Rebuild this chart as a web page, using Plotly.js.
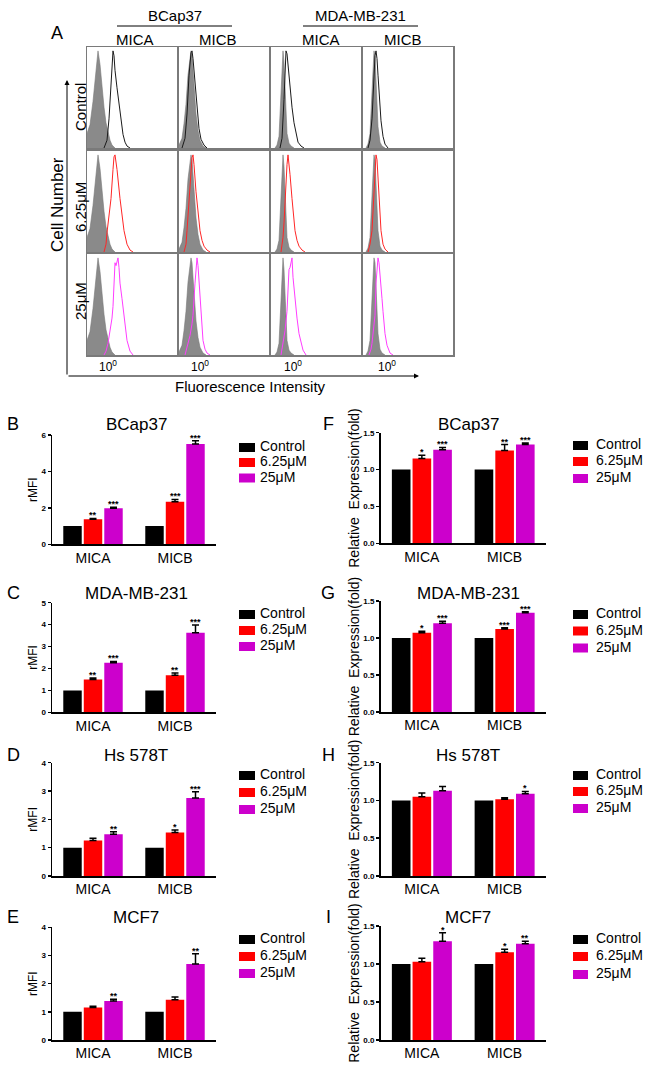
<!DOCTYPE html>
<html><head><meta charset="utf-8">
<script src="https://cdn.plot.ly/plotly-3.0.1.min.js"></script>
<style>html,body{margin:0;padding:0;background:#fff}#chart{width:650px;height:1079px}</style>
</head><body><div id="chart"></div>
<script>
// ================= DATA =================
// Panel A: flow cytometry histograms (x = channel, 30 channels per decade; y = relative cell count)
const cellLines = ['BCap37', 'MDA-MB-231'];
const ligands = ['MICA', 'MICB'];
const treatments = ['Control', '6.25μM', '25μM'];
const axisTickText = '10<sup>0</sup>';
const zeroChannel = [21, 21, 22, 24];   // channel of intensity 10^0 in each column

// isotype (grey filled) per column
const iso1_ch = [0, 3, 6, 9, 11, 13, 15, 17, 19, 21, 23, 25, 28];
const iso1_n  = [15, 24, 48, 82, 100, 86, 62, 42, 26, 15, 8, 3, 0];
const iso2_ch = [0, 3, 5, 7, 9, 11, 12, 13, 15, 17, 19, 21, 24, 27];
const iso2_n  = [3, 10, 25, 45, 75, 95, 100, 95, 60, 35, 18, 8, 2, 0];
const iso3_ch = [4, 6, 8, 9, 10, 11, 12, 13, 14, 15, 16, 18, 20, 23];
const iso3_n  = [0, 3, 12, 35, 70, 92, 100, 88, 60, 32, 15, 5, 2, 0];
const iso4_ch = [3, 5, 7, 8, 9, 10, 11, 12, 13, 14, 15, 17, 19, 22];
const iso4_n  = [0, 4, 15, 35, 65, 90, 100, 95, 75, 45, 22, 6, 2, 0];

// Control (black)
const ctl1_ch = [17, 20, 22, 24, 25, 26, 27, 28, 30, 32, 34, 36, 38, 40, 43];
const ctl1_n  = [0, 8, 30, 70, 90, 100, 95, 80, 62, 45, 30, 14, 6, 2, 0];
const ctl2_ch = [3, 6, 8, 10, 12, 13, 14, 16, 18, 20, 22, 25, 28];
const ctl2_n  = [0, 10, 35, 75, 98, 100, 92, 65, 40, 20, 9, 3, 0];
const ctl3_ch = [9, 11, 13, 14, 15, 16, 17, 19, 21, 23, 25, 27, 30, 33];
const ctl3_n  = [0, 10, 50, 85, 100, 97, 85, 62, 42, 26, 14, 6, 2, 0];
const ctl4_ch = [5, 7, 9, 10, 11, 12, 13, 14, 15, 16, 18, 20, 22, 25];
const ctl4_n  = [0, 8, 30, 55, 80, 95, 100, 92, 75, 55, 28, 12, 4, 0];

// 6.25 μM (red)
const low1_ch = [17, 19, 20, 22, 24, 26, 27, 28, 30, 33, 35, 37, 40, 43, 46];
const low1_n  = [0, 8, 20, 38, 55, 85, 98, 100, 85, 55, 38, 22, 8, 2, 0];
const low2_ch = [5, 7, 8, 10, 12, 13, 14, 15, 17, 19, 21, 23, 25, 28, 31];
const low2_n  = [0, 8, 22, 55, 85, 97, 100, 90, 62, 38, 22, 12, 6, 2, 0];
const low3_ch = [10, 12, 13, 14, 16, 17, 18, 19, 21, 23, 24, 26, 28, 31, 34];
const low3_n  = [0, 15, 30, 55, 90, 100, 92, 80, 55, 32, 22, 12, 6, 2, 0];
const low4_ch = [5, 7, 9, 10, 11, 12, 13, 14, 15, 16, 17, 18, 20, 22, 25];
const low4_n  = [0, 8, 22, 45, 70, 92, 100, 95, 75, 55, 35, 22, 8, 3, 0];

// 25 μM (magenta)
const high1_ch = [17, 19, 21, 23, 25, 26, 27, 28, 29, 30, 31, 32, 33, 35, 37, 40, 43, 46];
const high1_n  = [0, 4, 12, 25, 38, 50, 74, 95, 92, 96, 100, 90, 74, 58, 41, 15, 4, 0];
const high2_ch = [6, 9, 11, 13, 14, 16, 17, 18, 19, 20, 22, 24, 26, 28, 31];
const high2_n  = [0, 12, 20, 32, 41, 74, 92, 100, 92, 74, 41, 15, 6, 2, 0];
const high3_ch = [10, 12, 14, 16, 17, 18, 19, 20, 21, 22, 24, 26, 28, 30, 32, 35];
const high3_n  = [0, 12, 25, 45, 70, 88, 90, 95, 100, 80, 55, 38, 22, 12, 5, 0];
const high4_ch = [6, 8, 9, 11, 12, 13, 14, 15, 16, 17, 18, 19, 20, 22, 24, 27, 30];
const high4_n  = [0, 6, 12, 28, 41, 74, 90, 100, 95, 85, 74, 58, 45, 22, 10, 2, 0];

// Panels B-I: bar charts
const barCategories = ['MICA', 'MICB'];
const seriesNames = ['Control', '6.25μM', '25μM'];

const B_ctrl = [1, 1], B_low = [1.37, 2.34], B_high = [1.98, 5.51];
const B_lowErr = [0.05, 0.12], B_highErr = [0.06, 0.18];
const B_lowSig = ['**', '***'], B_highSig = ['***', '***'];

const C_ctrl = [1, 1], C_low = [1.50, 1.69], C_high = [2.26, 3.63];
const C_lowErr = [0.06, 0.10], C_highErr = [0.06, 0.35];
const C_lowSig = ['**', '**'], C_highSig = ['***', '***'];

const D_ctrl = [1, 1], D_low = [1.25, 1.54], D_high = [1.47, 2.75];
const D_lowErr = [0.08, 0.08], D_highErr = [0.09, 0.22];
const D_lowSig = ['', '*'], D_highSig = ['**', '***'];

const E_ctrl = [1, 1], E_low = [1.15, 1.43], E_high = [1.38, 2.70];
const E_lowErr = [0.05, 0.10], E_highErr = [0.07, 0.36];
const E_lowSig = ['', ''], E_highSig = ['**', '**'];

const F_ctrl = [1, 1], F_low = [1.15, 1.26], F_high = [1.27, 1.34];
const F_lowErr = [0.045, 0.08], F_highErr = [0.03, 0.02];
const F_lowSig = ['*', '**'], F_highSig = ['***', '***'];

const G_ctrl = [1, 1], G_low = [1.07, 1.12], G_high = [1.20, 1.34];
const G_lowErr = [0.02, 0.02], G_highErr = [0.025, 0.015];
const G_lowSig = ['*', '***'], G_highSig = ['***', '***'];

const H_ctrl = [1, 1], H_low = [1.05, 1.015], H_high = [1.13, 1.09];
const H_lowErr = [0.05, 0.02], H_highErr = [0.055, 0.03];
const H_lowSig = ['', ''], H_highSig = ['', '*'];

const I_ctrl = [1, 1], I_low = [1.03, 1.155], I_high = [1.30, 1.265];
const I_lowErr = [0.045, 0.04], I_highErr = [0.11, 0.035];
const I_lowSig = ['', '*'], I_highSig = ['*', '**'];

// ================= BUILD =================
const W = 650, H = 1079;
const px = v => v / W;
const py = v => 1 - v / H;
const FONT = 'Arial, "Liberation Sans", sans-serif';

const traces = [];
const layout = {
  width: W, height: H,
  margin: {l: 0, r: 0, t: 0, b: 0},
  paper_bgcolor: '#fff', plot_bgcolor: 'rgba(0,0,0,0)',
  font: {family: FONT, color: '#000'},
  barmode: 'group', bargap: 0.25, bargroupgap: 0.1,
  showlegend: false,
  annotations: [], shapes: []
};
const ann = (o) => layout.annotations.push(Object.assign({xref: 'paper', yref: 'paper', showarrow: false,
  xanchor: 'center', yanchor: 'middle', font: {family: FONT, size: 15, color: '#000'}}, o));

// ---------- Panel A ----------
const isoCurves = [[iso1_ch, iso1_n], [iso2_ch, iso2_n], [iso3_ch, iso3_n], [iso4_ch, iso4_n]];
const stainCurves = [
  [[ctl1_ch, ctl1_n], [ctl2_ch, ctl2_n], [ctl3_ch, ctl3_n], [ctl4_ch, ctl4_n]],
  [[low1_ch, low1_n], [low2_ch, low2_n], [low3_ch, low3_n], [low4_ch, low4_n]],
  [[high1_ch, high1_n], [high2_ch, high2_n], [high3_ch, high3_n], [high4_ch, high4_n]]
];
const lineColors = ['#1a1a1a', '#ff2626', '#ff3cff'];
const colX = [[87, 177], [179, 269], [271, 361], [363, 453]];
const rowY = [[47, 148], [151, 252], [254, 355]];

for (let r = 0; r < 3; r++) {
  for (let c = 0; c < 4; c++) {
    const idx = r * 4 + c + 1;
    const xs = idx === 1 ? 'x' : 'x' + idx, ys = idx === 1 ? 'y' : 'y' + idx;
    const xk = idx === 1 ? 'xaxis' : 'xaxis' + idx, yk = idx === 1 ? 'yaxis' : 'yaxis' + idx;
    traces.push({type: 'scatter', mode: 'lines', x: isoCurves[c][0], y: isoCurves[c][1], xaxis: xs, yaxis: ys,
      fill: 'tozeroy', fillcolor: '#8a8a8a', line: {color: '#777', width: 0.6}, name: 'Isotype', hoverinfo: 'skip'});
    traces.push({type: 'scatter', mode: 'lines', x: stainCurves[r][c][0], y: stainCurves[r][c][1], xaxis: xs, yaxis: ys,
      line: {color: lineColors[r], width: 1}, name: treatments[r], hoverinfo: 'skip'});
    layout[xk] = {domain: [px(colX[c][0]), px(colX[c][1])], anchor: ys, range: [0, 90], fixedrange: true,
      showline: true, mirror: true, linecolor: '#7a7a7a', linewidth: 1.5, showgrid: false, zeroline: false,
      ticks: '', tickvals: [zeroChannel[c]], ticktext: [axisTickText], showticklabels: r === 2,
      tickfont: {size: 12, family: FONT, color: '#000'}};
    layout[yk] = {domain: [py(rowY[r][1]), py(rowY[r][0])], anchor: xs, range: [0, 104], fixedrange: true,
      showline: true, mirror: true, linecolor: '#7a7a7a', linewidth: 1.5, showgrid: false, zeroline: false,
      ticks: '', showticklabels: false};
  }
}

// headers
ann({x: px(57), y: py(33), text: 'A', font: {family: FONT, size: 18, color: '#000'}});
ann({x: px(175), y: py(15), text: cellLines[0]});
ann({x: px(360), y: py(15), text: cellLines[1]});
layout.shapes.push({type: 'line', xref: 'paper', yref: 'paper', x0: px(117), x1: px(232), y0: py(26), y1: py(26), line: {color: '#000', width: 1}});
layout.shapes.push({type: 'line', xref: 'paper', yref: 'paper', x0: px(303), x1: px(418), y0: py(26), y1: py(26), line: {color: '#000', width: 1}});
[[135, 0], [218, 1], [321, 0], [403, 1]].forEach(([x, k]) => ann({x: px(x), y: py(39), text: ligands[k]}));
// row labels
[[107, 0], [207, 1], [301, 2]].forEach(([y, k]) => ann({x: px(80), y: py(y), text: treatments[k], textangle: -90}));
ann({x: px(58), y: py(204), text: 'Cell Number', textangle: -90, font: {family: FONT, size: 17, color: '#000'}});
ann({x: px(250), y: py(386), text: 'Fluorescence Intensity', font: {family: FONT, size: 15, color: '#000'}});
// axis arrows
layout.annotations.push({xref: 'paper', yref: 'paper', axref: 'paper', ayref: 'paper', x: px(67), y: py(80), ax: px(67), ay: py(376),
  showarrow: true, arrowhead: 2, arrowsize: 1, arrowwidth: 1, arrowcolor: '#000', text: ''});
layout.annotations.push({xref: 'paper', yref: 'paper', axref: 'paper', ayref: 'paper', x: px(419), y: py(376), ax: px(67), ay: py(376),
  showarrow: true, arrowhead: 2, arrowsize: 1, arrowwidth: 1, arrowcolor: '#000', text: ''});

// ---------- Bar panels ----------
const barCharts = [
  {L: 'B', t: cellLines[0], yt: 'rMFI', d: [B_ctrl, B_low, B_high], e: [B_lowErr, B_highErr], s: [B_lowSig, B_highSig], ymax: 6, dtick: 2, col: 0, top: 435, bot: 544.3, ty: 424, leg: [446, 461, 476.5]},
  {L: 'C', t: cellLines[1], yt: 'rMFI', d: [C_ctrl, C_low, C_high], e: [C_lowErr, C_highErr], s: [C_lowSig, C_highSig], ymax: 5, dtick: 1, col: 0, top: 602.7, bot: 712.3, ty: 593, leg: [613, 629, 645]},
  {L: 'D', t: 'Hs 578T', yt: 'rMFI', d: [D_ctrl, D_low, D_high], e: [D_lowErr, D_highErr], s: [D_lowSig, D_highSig], ymax: 4, dtick: 1, col: 0, top: 762.7, bot: 876, ty: 755, leg: [774, 791, 808]},
  {L: 'E', t: 'MCF7', yt: 'rMFI', d: [E_ctrl, E_low, E_high], e: [E_lowErr, E_highErr], s: [E_lowSig, E_highSig], ymax: 4, dtick: 1, col: 0, top: 927.3, bot: 1040, ty: 917, leg: [938, 955, 972]},
  {L: 'F', t: cellLines[0], yt: 'Relative\u00a0 Expression(fold)', d: [F_ctrl, F_low, F_high], e: [F_lowErr, F_highErr], s: [F_lowSig, F_highSig], ymax: 1.5, dtick: 0.5, col: 1, top: 432.7, bot: 543.3, ty: 424, leg: [444, 460, 477]},
  {L: 'G', t: cellLines[1], yt: 'Relative\u00a0 Expression(fold)', d: [G_ctrl, G_low, G_high], e: [G_lowErr, G_highErr], s: [G_lowSig, G_highSig], ymax: 1.5, dtick: 0.5, col: 1, top: 601, bot: 712, ty: 593, leg: [613, 629.5, 646.5]},
  {L: 'H', t: 'Hs 578T', yt: 'Relative\u00a0 Expression(fold)', d: [H_ctrl, H_low, H_high], e: [H_lowErr, H_highErr], s: [H_lowSig, H_highSig], ymax: 1.5, dtick: 0.5, col: 1, top: 762.7, bot: 876, ty: 755, leg: [774, 790, 807]},
  {L: 'I', t: 'MCF7', yt: 'Relative\u00a0 Expression(fold)', d: [I_ctrl, I_low, I_high], e: [I_lowErr, I_highErr], s: [I_lowSig, I_highSig], ymax: 1.5, dtick: 0.5, col: 1, top: 926, bot: 1040, ty: 917, leg: [938, 955, 973]}
];
const colGeom = [
  {ax: [52, 216], letterX: 13, titleX: 136, keyX: [239, 255], textX: 258, standoff: 1},
  {ax: [380.5, 546], letterX: 328, titleX: 468, keyX: [573, 588], textX: 594, standoff: 0}
];
const barColors = ['#000000', '#ff0000', '#cc00cc'];
const offsets = [-0.25, 0, 0.25];

barCharts.forEach((ch, i) => {
  const idx = 13 + i;
  const xs = 'x' + idx, ys = 'y' + idx, xk = 'xaxis' + idx, yk = 'yaxis' + idx;
  const g = colGeom[ch.col];
  for (let k = 0; k < 3; k++) {
    const tr = {type: 'bar', x: barCategories, y: ch.d[k], name: seriesNames[k], xaxis: xs, yaxis: ys,
      marker: {color: barColors[k], line: {width: 0}}, hoverinfo: 'y'};
    if (k > 0) tr.error_y = {type: 'data', symmetric: false, array: ch.e[k - 1], arrayminus: [0, 0], color: '#000', thickness: 1.5, width: 3.5};
    traces.push(tr);
  }
  layout[xk] = {domain: [px(g.ax[0]), px(g.ax[1])], anchor: ys, type: 'category', range: [-0.5, 1.5], fixedrange: true,
    showline: true, linecolor: '#000', linewidth: 1.5, ticks: '', showgrid: false, zeroline: false,
    tickfont: {size: 14, family: FONT, color: '#000'}};
  layout[yk] = {domain: [py(ch.bot), py(ch.top)], anchor: xs, range: [0, ch.ymax], dtick: ch.dtick, tick0: 0, fixedrange: true,
    tickformat: ch.col === 1 ? '.1f' : 'd',
    showline: true, linecolor: '#000', linewidth: 1.5, ticks: 'outside', ticklen: 3, tickwidth: 1.5, tickcolor: '#000',
    showgrid: false, zeroline: false, tickfont: {size: 8, family: FONT, color: '#000', weight: 'bold'},
    title: {text: ch.yt, font: {size: ch.col === 1 ? 14 : 12, family: FONT, color: '#000'}, standoff: g.standoff}};
  // letter + title
  ann({x: px(g.letterX), y: py(ch.ty), text: ch.L, font: {family: FONT, size: 18, color: '#000'}});
  ann({x: px(g.titleX), y: py(ch.ty), text: ch.t, font: {family: FONT, size: 17, color: '#000'}});
  // key (legend) drawn beside each chart
  for (let k = 0; k < 3; k++) {
    const yc = ch.leg[k] + 1.5;
    layout.shapes.push({type: 'rect', xref: 'paper', yref: 'paper', x0: px(g.keyX[0]), x1: px(g.keyX[1]),
      y0: py(yc - 4.5), y1: py(yc + 4.5), fillcolor: barColors[k], line: {width: 0}});
    ann({x: px(g.textX), y: py(ch.leg[k]), text: seriesNames[k], xanchor: 'left', font: {family: FONT, size: 14, color: '#000'}});
  }
  // significance stars
  for (let k = 1; k < 3; k++) {
    for (let j = 0; j < 2; j++) {
      const txt = ch.s[k - 1][j];
      if (!txt) continue;
      layout.annotations.push({xref: xs, yref: ys, x: j + offsets[k], y: ch.d[k][j] + ch.e[k - 1][j], text: txt,
        showarrow: false, xanchor: 'center', yanchor: 'bottom', yshift: -4, font: {family: FONT, size: 9, color: '#000', weight: 'bold'}});
    }
  }
});

Plotly.newPlot('chart', traces, layout, {staticPlot: true, displayModeBar: false});
</script></body></html>
